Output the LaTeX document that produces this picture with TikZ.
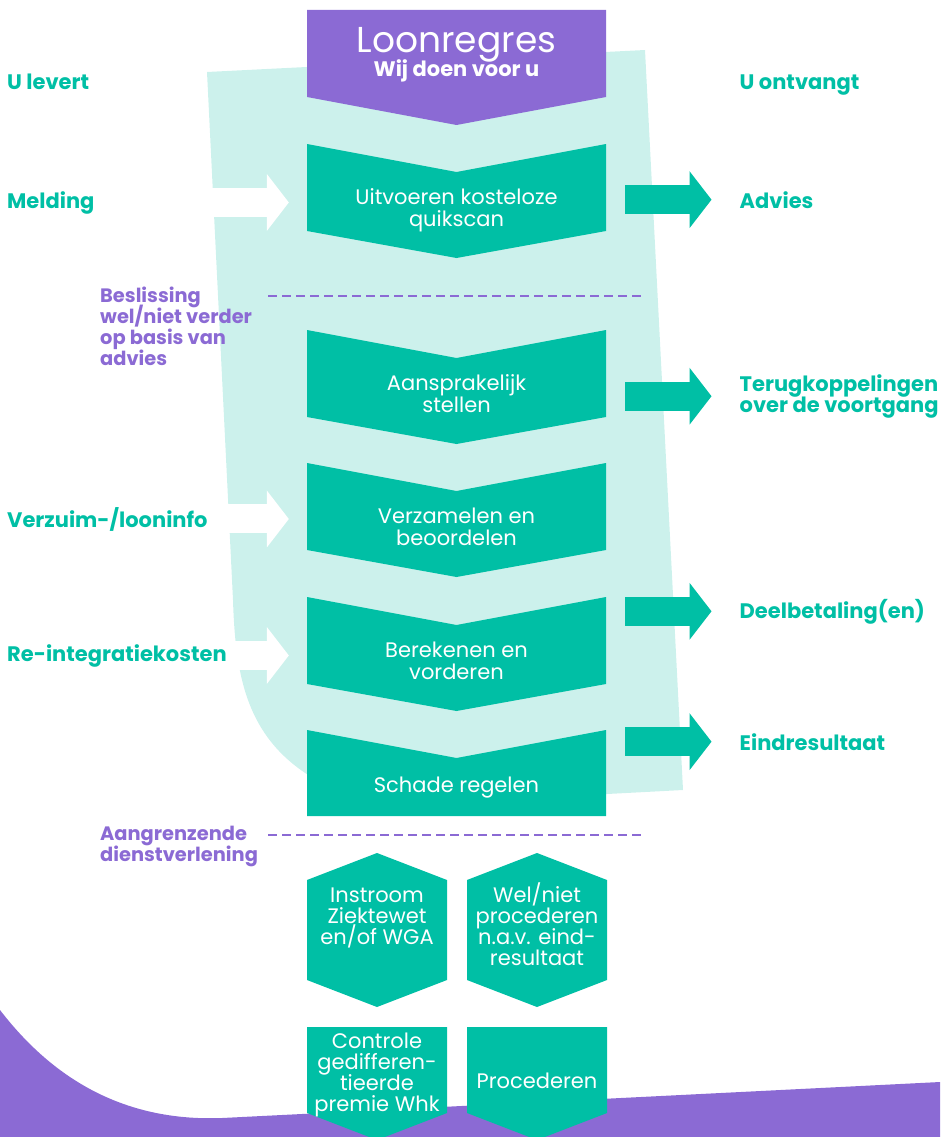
\documentclass[tikz,border=0pt]{standalone}
\usepackage{fontspec}
\setmainfont{Poppins}
\usetikzlibrary{arrows.meta}
\definecolor{tealc}{RGB}{0,191,165}
\definecolor{lightteal}{RGB}{204,241,236}
\definecolor{lilac}{RGB}{139,106,212}
\newcommand\tightlines{\lineskiplimit=-20pt\relax}

\tikzset{
  side/.style={font=\bfseries\fontsize{21}{20.5}\selectfont\tightlines, text=tealc, inner sep=0pt, align=left, anchor=base west},
  note/.style={font=\bfseries\fontsize{19.4}{21}\selectfont\tightlines, text=lilac, inner sep=0pt, align=left, anchor=base west},
  stepbox/.style={font=\fontsize{21}{22}\selectfont\tightlines, text=white, align=center, inner sep=0pt, minimum width=299pt, anchor=base},
  cell/.style={font=\fontsize{21}{21}\selectfont\tightlines, text=white, align=center, inner sep=0pt, anchor=base},
  inarrow/.style={white, line width=29pt, -{Triangle[length=22pt,width=57pt,line width=0pt]}},
  outarrow/.style={tealc, line width=29pt, -{Triangle[length=22pt,width=57pt,line width=0pt]}},
  split/.style={lilac, line width=2.5pt, dash pattern=on 9pt off 5pt},
}

\begin{document}
\begin{tikzpicture}[x=1pt,y=-1pt]
\useasboundingbox (0,0) rectangle (940,1137);
\clip (0,0) rectangle (940,1137);

% achtergrond
\fill[lightteal] (207,72) -- (645,50) -- (683,790) -- (380,806) .. controls (255,770) and (236,700) .. (233,600) -- cycle;
\fill[lilac] (0,1010) .. controls (50,1075) and (120,1122) .. (222,1118) -- (940,1082) -- (940,1137) -- (0,1137) -- cycle;

% kop
\fill[lilac] (307,10) -- (606,10) -- (606,97) -- (456.5,125) -- (307,97) -- cycle;
\node[font=\fontsize{36}{36}\selectfont, text=white, anchor=base, text depth=0pt] (title) at (456.5,53) {Loonregres};
\node[font=\bfseries\fontsize{21}{21}\selectfont, text=white, anchor=base] (subtitle) at (456.5,77) {Wij doen voor u};

% stappen (anchor base = laatste regel)
\foreach \y/\nm/\txt in {144/scan/{Uitvoeren kosteloze\\quikscan}, 330/claim/{Aansprakelijk\\stellen}, 463/collect/{Verzamelen en\\beoordelen}, 597/calc/{Berekenen en\\vorderen}}{
  \fill[tealc] (307,\y) -- (456.5,\y+28) -- (606,\y) -- (606,\y+87) -- (456.5,\y+114) -- (307,\y+87) -- cycle;
  \node[stepbox] (\nm) at (456.5,\y+82) {\txt};
}
\fill[tealc] (307,730) -- (456.5,758) -- (606,730) -- (606,816) -- (307,816) -- cycle;
\node[stepbox] (settle) at (456.5,792) {Schade regelen};

\draw[split] (268,296) -- (645,296);
\draw[split] (268,835) -- (645,835);

% aangrenzend
\foreach \x/\nm/\yb/\txt in {377/inflow/944/{Instroom\\Ziektewet\\en/of WGA}, 537/appeal/965/{Wel/niet\\procederen\\n.a.v. eind-\\resultaat}}{
  \fill[tealc] (\x-70,880) -- (\x,853) -- (\x+70,880) -- (\x+70,980) -- (\x,1007) -- (\x-70,980) -- cycle;
  \node[cell] (\nm) at (\x,\yb) {\txt};
}
\fill[tealc] (307,1027) -- (447,1027) -- (447,1113) -- (377,1140) -- (307,1113) -- cycle;
\fill[tealc] (467,1027) -- (607,1027) -- (607,1113) -- (537,1140) -- (467,1113) -- cycle;
\node[cell] (premium) at (377,1111) {Controle\\gedifferen-\\tieerde\\premie Whk};
\node[cell] (litigate) at (537,1088) {Procederen};

% links en rechts
\node[side] (youdeliver) at (7,90) {U levert};
\node[side] (report) at (7,208) {Melding};
\node[side] (absence) at (7,527) {Verzuim-/looninfo};
\node[side] (reint) at (7,661) {Re-integratiekosten};
\node[side] (youget) at (739.5,90) {U ontvangt};
\node[side] (advice) at (739.5,208) {Advies};
\node[side] (feedback) at (739.5,412) {Terugkoppelingen\\over de voortgang};
\node[side] (partpay) at (739.5,618) {Deelbetaling(en)};
\node[side] (result) at (739.5,750) {Eindresultaat};
\node[note] (decide) at (100,365) {Beslissing\\wel/niet verder\\op basis van\\advies};
\node[note] (adjacent) at (100,861) {Aangrenzende\\dienstverlening};

\draw[inarrow, shorten >=18pt] (report.east) -- (scan.west |- report.east);
\draw[inarrow, shorten >=18pt] (absence.east) -- (collect.west |- absence.east);
\draw[inarrow, shorten >=18pt] (reint.east) -- (calc.west |- reint.east);
\draw[outarrow, shorten <=19pt, shorten >=28pt] (scan.east |- advice.west) -- (advice.west);
\draw[outarrow, shorten <=19pt, shorten >=28pt] (claim.east |- feedback.west) -- (feedback.west);
\draw[outarrow, shorten <=19pt, shorten >=28pt] (calc.east |- partpay.west) -- (partpay.west);
\draw[outarrow, shorten <=19pt, shorten >=28pt] (settle.east |- result.west) -- (result.west);
\end{tikzpicture}
\end{document}
